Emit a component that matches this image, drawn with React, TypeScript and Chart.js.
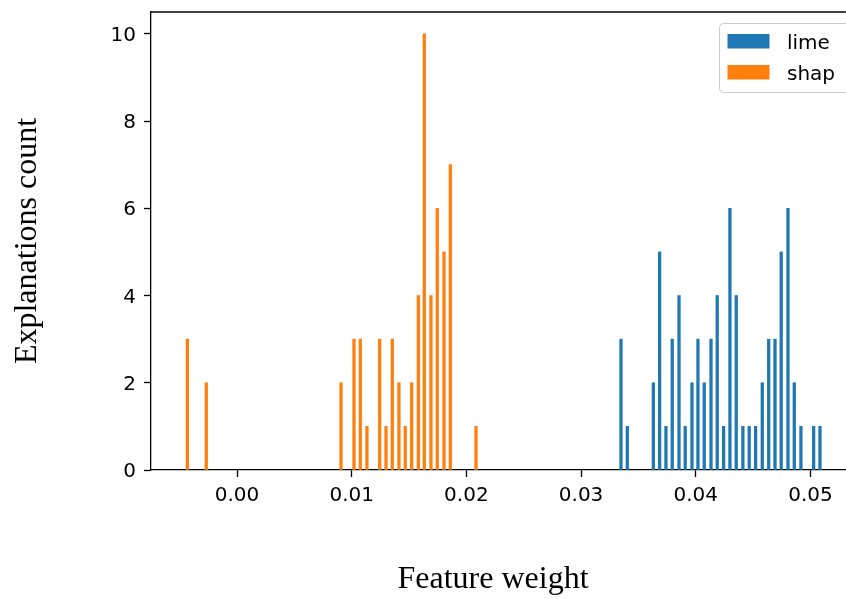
import React, { useEffect, useRef } from "react";
import { Chart, registerables } from "chart.js";

Chart.register(...registerables);

const limeWeights = [
  0.03348, 0.03403, 0.0363, 0.03685, 0.0374, 0.03795, 0.03854, 0.03908, 0.03967, 0.04019,
  0.04074, 0.04133, 0.04187, 0.04243, 0.04298, 0.04353, 0.04411, 0.04466, 0.04522, 0.0458,
  0.04636, 0.04691, 0.04745, 0.04804, 0.04859, 0.04917, 0.05028, 0.05083,
];
const limeCounts = [3, 1, 2, 5, 1, 3, 4, 1, 2, 3, 2, 3, 4, 1, 6, 4, 1, 1, 1, 2, 3, 3, 5, 6, 2, 1, 1, 1];

const shapWeights = [
  -0.00433, -0.00268, 0.00907, 0.0102, 0.01075, 0.01133, 0.01244, 0.01299, 0.01354, 0.01412,
  0.01467, 0.01523, 0.01581, 0.01633, 0.01691, 0.01746, 0.01805, 0.0186, 0.02084,
];
const shapCounts = [3, 2, 2, 3, 3, 1, 3, 1, 3, 2, 1, 2, 4, 10, 4, 6, 5, 7, 1];

const xTicks = [0, 0.01, 0.02, 0.03, 0.04, 0.05];
const yTicks = [0, 2, 4, 6, 8, 10];
const seriesNames = ["lime", "shap"];
const seriesColors = ["#1f77b4", "#ff7f0e"];
const xLabel = "Feature weight";
const yLabel = "Explanations count";

export default function App() {
  const ref = useRef<HTMLCanvasElement>(null);

  useEffect(() => {
    const canvas = ref.current;
    if (!canvas) return;

    const overlay = {
      id: "overlay",
      afterDraw(chart: any) {
        const ctx = chart.ctx as CanvasRenderingContext2D;
        const area = chart.chartArea;
        ctx.save();
        // top spine
        ctx.strokeStyle = "#000";
        ctx.lineWidth = 1.3;
        ctx.beginPath();
        ctx.moveTo(area.left - 0.65, area.top);
        ctx.lineTo(area.right, area.top);
        ctx.stroke();

        // x axis title
        ctx.fillStyle = "#000";
        ctx.font = "32px 'Liberation Serif', 'Times New Roman', serif";
        ctx.textAlign = "center";
        ctx.textBaseline = "middle";
        ctx.fillText(xLabel, 493, 580);

        // legend
        const lx = 719.5;
        const ly = 23.5;
        const lw = 140;
        const lh = 69;
        const r = 4;
        ctx.beginPath();
        ctx.moveTo(lx + r, ly);
        ctx.lineTo(lx + lw - r, ly);
        ctx.arcTo(lx + lw, ly, lx + lw, ly + r, r);
        ctx.lineTo(lx + lw, ly + lh - r);
        ctx.arcTo(lx + lw, ly + lh, lx + lw - r, ly + lh, r);
        ctx.lineTo(lx + r, ly + lh);
        ctx.arcTo(lx, ly + lh, lx, ly + lh - r, r);
        ctx.lineTo(lx, ly + r);
        ctx.arcTo(lx, ly, lx + r, ly, r);
        ctx.closePath();
        ctx.fillStyle = "rgba(255,255,255,0.8)";
        ctx.fill();
        ctx.strokeStyle = "#cccccc";
        ctx.lineWidth = 1;
        ctx.stroke();

        ctx.font = "20px 'DejaVu Sans', sans-serif";
        ctx.textAlign = "left";
        ctx.textBaseline = "alphabetic";
        const rowsY = [34, 65];
        const baseY = [48.5, 79.5];
        seriesNames.forEach((name, i) => {
          ctx.fillStyle = seriesColors[i];
          ctx.fillRect(727.5, rowsY[i], 42, 14.5);
          ctx.fillStyle = "#000";
          ctx.fillText(name, 787, baseY[i]);
        });
        ctx.restore();
      },
    };

    const chart = new Chart(canvas, {
      type: "bar",
      data: {
        datasets: [
          {
            label: seriesNames[0],
            data: limeWeights.map((x, i) => ({ x, y: limeCounts[i] })),
            backgroundColor: seriesColors[0],
            borderWidth: 0,
            barThickness: 2.6,
            grouped: false,
          } as any,
          {
            label: seriesNames[1],
            data: shapWeights.map((x, i) => ({ x, y: shapCounts[i] })),
            backgroundColor: seriesColors[1],
            borderWidth: 0,
            barThickness: 2.6,
            grouped: false,
          } as any,
        ],
      },
      options: {
        responsive: false,
        animation: false,
        devicePixelRatio: 1,
        layout: { padding: { top: 12, left: 0, right: 0, bottom: 0 } },
        plugins: {
          legend: { display: false },
          tooltip: { enabled: false },
        },
        scales: {
          x: {
            type: "linear",
            min: -0.0075,
            max: 0.0531,
            offset: false,
            afterBuildTicks: (s: any) => {
              s.ticks = xTicks.map((v) => ({ value: v }));
            },
            afterFit: (s: any) => {
              s.height = 129;
              s.paddingLeft = 0;
              s.paddingRight = 0;
            },
            ticks: {
              callback: (v: any) => Number(v).toFixed(2),
              font: { family: "'DejaVu Sans'", size: 20 },
              color: "#000",
              padding: 7,
              maxRotation: 0,
              autoSkip: false,
            },
            grid: {
              offset: false,
              drawOnChartArea: false,
              drawTicks: true,
              tickLength: 7,
              tickWidth: 1.3,
              tickColor: "#000",
              color: "#000",
            },
            border: { display: true, color: "#000", width: 1.3 },
          } as any,
          y: {
            type: "linear",
            min: 0,
            max: 10.5,
            afterBuildTicks: (s: any) => {
              s.ticks = yTicks.map((v) => ({ value: v }));
            },
            afterFit: (s: any) => {
              s.width = 151;
              s.paddingTop = 0;
              s.paddingBottom = 0;
            },
            ticks: {
              callback: (v: any) => String(v),
              font: { family: "'DejaVu Sans'", size: 20 },
              color: "#000",
              padding: 8,
              labelOffset: 2,
              autoSkip: false,
            },
            grid: {
              drawOnChartArea: false,
              drawTicks: true,
              tickLength: 7,
              tickWidth: 1.3,
              tickColor: "#000",
              color: "#000",
            },
            border: { display: true, color: "#000", width: 1.3 },
            title: {
              display: true,
              text: yLabel,
              color: "#000",
              font: { family: "'Liberation Serif', 'Times New Roman', serif", size: 32 },
              padding: { top: 8, bottom: 0 },
            },
          } as any,
        },
      },
      plugins: [overlay],
    });

    return () => chart.destroy();
  }, []);

  return (
    <div style={{ position: "absolute", left: 0, top: 0, width: 846, height: 599, background: "#fff" }}>
      <canvas ref={ref} width={846} height={599} style={{ display: "block", width: 846, height: 599 }} />
    </div>
  );
}
